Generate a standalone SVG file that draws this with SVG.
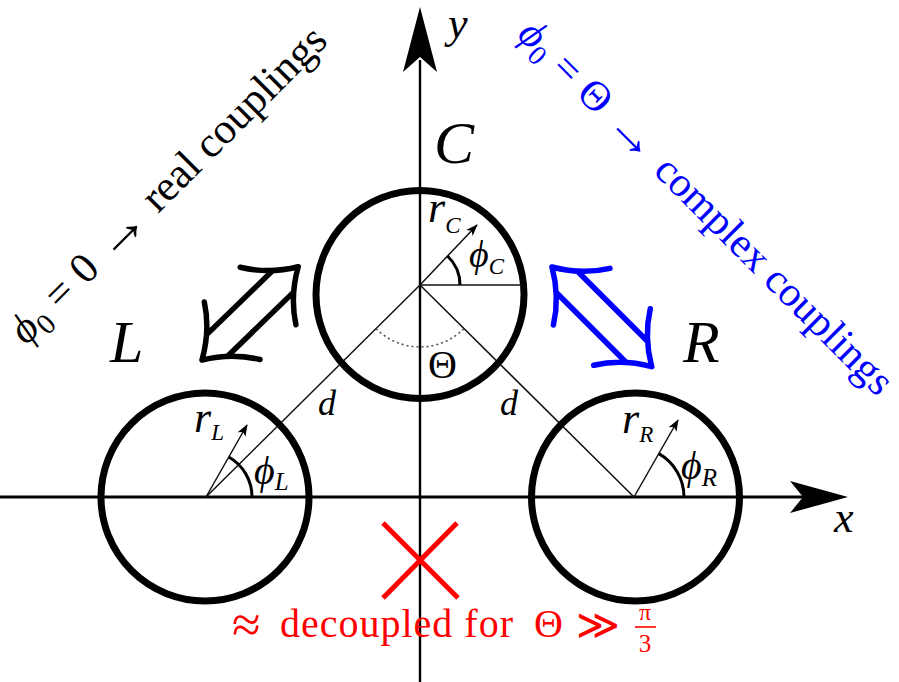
<svg xmlns="http://www.w3.org/2000/svg" width="899" height="682" viewBox="0 0 899 682">
<defs>
<style>
text{font-family:'Liberation Serif','DejaVu Serif',serif;}
.it{font-style:italic;}
.ring{fill:none;stroke:#000;stroke-width:7;}
.thin{fill:none;stroke:#111;stroke-width:1.5;}
.ang{fill:none;stroke:#000;stroke-width:3;}
.dbl{fill:none;stroke-width:5.5;stroke-linecap:round;stroke-linejoin:round;}
</style>
<marker id="ah" viewBox="0 0 12 12" refX="11" refY="6" markerWidth="12" markerHeight="12" markerUnits="userSpaceOnUse" orient="auto">
<path d="M0,1.5 L12,6 L0,10.5 L3,6 z" fill="#000"/>
</marker>
</defs>
<rect width="899" height="682" fill="#fff"/>

<g font-family="Liberation Serif, DejaVu Serif, serif">
<g id="axes">
<line x1="420" y1="60" x2="420" y2="682" stroke="#000" stroke-width="2.4"/>
<polygon points="420,7 437,72 420,57 403,72" fill="#000"/>
<line x1="0" y1="497" x2="805" y2="497" stroke="#000" stroke-width="3"/>
<polygon points="848,497 790,481 803,497 790,513" fill="#000"/>
<text x="448" y="38" class="it" font-size="44">y</text>
<text x="834" y="532" class="it" font-size="44">x</text>
</g>

<g id="connectors">
<line x1="420" y1="285" x2="206" y2="497" class="thin"/>
<line x1="420" y1="285" x2="634" y2="497" class="thin"/>
<path d="M376.2,328.8 A62,62 0 0,0 463.8,328.8" fill="none" stroke="#555" stroke-width="1.6" stroke-dasharray="2,3"/>
<text x="318" y="415" class="it" font-size="36">d</text>
<text x="500" y="415" class="it" font-size="36">d</text>
<text x="428" y="378" font-size="40">Θ</text>
<g id="arrow-LC" transform="translate(202,360) rotate(-44.1)" class="dbl" stroke="#000">
<path d="M0,0 Q26.6,-15.4 42,-40 M0,0 Q26.6,15.4 42,40 M134,0 Q107.4,-15.4 92,-40 M134,0 Q107.4,15.4 92,40 M21,-15 H113 M21,15 H113"/>
</g>
<g id="arrow-CR" transform="translate(552,267) rotate(45)" class="dbl" stroke="#0000ff">
<path d="M0,0 Q26.6,-15.4 42,-40 M0,0 Q26.6,15.4 42,40 M141,0 Q114.4,-15.4 99,-40 M141,0 Q114.4,15.4 99,40 M21,-15 H120 M21,15 H120"/>
</g>
</g>

<g id="node-C">
<circle cx="420" cy="294.5" r="104" class="ring"/>
<line x1="420" y1="285" x2="524" y2="285" class="thin"/>
<line x1="420" y1="285" x2="477" y2="225" class="thin" marker-end="url(#ah)"/>
<path d="M460,285 A40,40 0 0,0 447.5,256" class="ang"/>
<text x="428" y="222" class="it" font-size="44">r<tspan font-size="23" dy="11">C</tspan></text>
<text x="469" y="267" class="it" font-size="38">ϕ<tspan font-size="23" dy="7">C</tspan></text>
<text x="434" y="163" class="it" font-size="60">C</text>
</g>

<g id="node-L">
<circle cx="205" cy="497" r="104" class="ring"/>
<line x1="206" y1="497" x2="247" y2="425" class="thin" marker-end="url(#ah)"/>
<path d="M252,497 A46,46 0 0,0 228.8,457" class="ang"/>
<text x="194" y="432" class="it" font-size="44">r<tspan font-size="23" dy="8">L</tspan></text>
<text x="254" y="484" class="it" font-size="40">ϕ<tspan font-size="25" dy="6">L</tspan></text>
<text x="110" y="362" class="it" font-size="60">L</text>
</g>

<g id="node-R">
<circle cx="635.5" cy="497" r="104" class="ring"/>
<line x1="634" y1="497" x2="678" y2="420" class="thin" marker-end="url(#ah)"/>
<path d="M684,497 A50,50 0 0,0 658.8,453.6" class="ang"/>
<text x="622" y="433" class="it" font-size="44">r<tspan font-size="23" dy="9">R</tspan></text>
<text x="681" y="479" class="it" font-size="40">ϕ<tspan font-size="25" dy="7">R</tspan></text>
<text x="683" y="362" class="it" font-size="60">R</text>
</g>

<g id="labels">
<text transform="translate(26,346) rotate(-45)" font-size="43"><tspan class="it">ϕ</tspan><tspan font-size="29" dy="8">0</tspan><tspan dy="-8" dx="12">=</tspan><tspan dx="12">0</tspan><tspan dx="12" font-size="56" dy="3">→</tspan><tspan dx="12" dy="-3">real couplings</tspan></text>
<text transform="translate(516,36) rotate(45)" font-size="42" fill="#0000ff"><tspan class="it">ϕ</tspan><tspan font-size="28" dy="8">0</tspan><tspan dy="-8" dx="12">=</tspan><tspan dx="12">Θ</tspan><tspan dx="12" font-size="55" dy="3">→</tspan><tspan dx="12" dy="-3">complex couplings</tspan></text>
<g id="decoupled" fill="#f00">
<line x1="383" y1="523" x2="458" y2="598" stroke="#f00" stroke-width="5"/>
<line x1="457" y1="523" x2="383" y2="598" stroke="#f00" stroke-width="5"/>
<text x="232" y="642" font-size="52">≈</text>
<text x="280" y="637" font-size="40" textLength="233" lengthAdjust="spacing">decoupled for</text>
<text x="534" y="637" font-size="40">Θ</text>
<text x="576" y="639" font-size="42">≫</text>
<text x="645" y="620" font-size="24" text-anchor="middle">π</text>
<line x1="635" y1="627" x2="656" y2="627" stroke="#f00" stroke-width="1.6"/>
<text x="645" y="652" font-size="25" text-anchor="middle">3</text>
</g>
</g>
</g>
</svg>
